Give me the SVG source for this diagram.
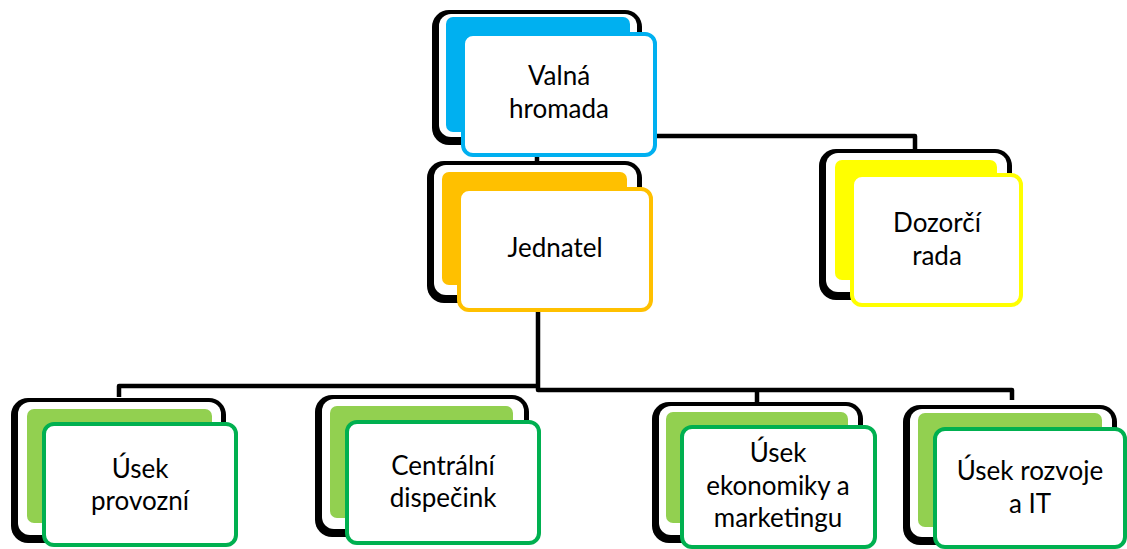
<svg xmlns="http://www.w3.org/2000/svg" width="1127" height="549" viewBox="0 0 1127 549">
<style>
.sh{fill:#000}
.in{fill:#fff}
.fr{fill:#fff;stroke-width:4}
.t{font-family:Lato,"Open Sans","Liberation Sans",sans-serif;font-size:26px;fill:#000;text-anchor:middle}
.c{fill:none;stroke:#000;stroke-width:4.5;stroke-linejoin:round}
.blue{fill:#00B0F0}.blueS{stroke:#00B0F0}
.orange{fill:#FFC000}.orangeS{stroke:#FFC000}
.yellow{fill:#FFFF00}.yellowS{stroke:#FFFF00}
.green{fill:#92D050}.greenS{stroke:#00B050}
</style>
<rect width="1127" height="549" fill="#fff"/>
<g id="connectors">
<path class="c" d="M657 136 H915 V149"/>
<path class="c" d="M537 156 V162"/>
<path class="c" d="M119 397 V386 H540"/>
<path class="c" d="M538 312 V390 H1012 V400"/>
<path class="c" d="M757 390 V403"/>
</g>
<g id="valna-hromada">
<rect class="sh" x="432" y="10" width="210" height="135" rx="17"/>
<rect class="in" x="439" y="14" width="198" height="123" rx="12"/>
<rect class="blue" x="446" y="17" width="184" height="115" rx="7"/>
<rect class="fr blueS" x="463" y="34" width="192" height="121" rx="10"/>
<text class="t" x="559" y="85">Valná</text>
<text class="t" x="559" y="118">hromada</text>
</g>
<g id="jednatel">
<rect class="sh" x="427" y="161" width="215" height="142" rx="17"/>
<rect class="in" x="434" y="165" width="203" height="130" rx="12"/>
<rect class="orange" x="442" y="172" width="185" height="113" rx="7"/>
<rect class="fr orangeS" x="459" y="189" width="192" height="121" rx="10"/>
<text class="t" x="555" y="257">Jednatel</text>
</g>
<g id="dozorci-rada">
<rect class="sh" x="819" y="149" width="193" height="151" rx="17"/>
<rect class="in" x="826" y="153" width="181" height="139" rx="12"/>
<rect class="yellow" x="835" y="160" width="162" height="120" rx="7"/>
<rect class="fr yellowS" x="852" y="175" width="169" height="130" rx="10"/>
<text class="t" x="937" y="232">Dozorčí</text>
<text class="t" x="937" y="265">rada</text>
</g>
<g id="usek-provozni">
<rect class="sh" x="11" y="398" width="215" height="145" rx="17"/>
<rect class="in" x="18" y="402" width="203" height="133" rx="12"/>
<rect class="green" x="27" y="409" width="185" height="114" rx="7"/>
<rect class="fr greenS" x="44" y="424" width="192" height="121" rx="10"/>
<text class="t" x="140" y="478">Úsek</text>
<text class="t" x="140" y="510">provozní</text>
</g>
<g id="centralni-dispecink">
<rect class="sh" x="315" y="395" width="214" height="142" rx="17"/>
<rect class="in" x="322" y="399" width="202" height="130" rx="12"/>
<rect class="green" x="330" y="406" width="183" height="112" rx="7"/>
<rect class="fr greenS" x="347" y="422" width="192" height="121" rx="10"/>
<text class="t" x="443" y="475">Centrální</text>
<text class="t" x="443" y="507">dispečink</text>
</g>
<g id="usek-ekonomiky">
<rect class="sh" x="652" y="402" width="211" height="141" rx="17"/>
<rect class="in" x="659" y="406" width="199" height="129" rx="12"/>
<rect class="green" x="666" y="412" width="182" height="111" rx="7"/>
<rect class="fr greenS" x="682" y="427" width="193" height="120" rx="10"/>
<text class="t" x="778" y="462">Úsek</text>
<text class="t" x="778" y="495">ekonomiky a</text>
<text class="t" x="778" y="527">marketingu</text>
</g>
<g id="usek-rozvoje">
<rect class="sh" x="903" y="405" width="214" height="140" rx="17"/>
<rect class="in" x="910" y="409" width="202" height="128" rx="12"/>
<rect class="green" x="918" y="413" width="184" height="114" rx="7"/>
<rect class="fr greenS" x="935" y="429" width="190" height="118" rx="10"/>
<text class="t" x="1030" y="480">Úsek rozvoje</text>
<text class="t" x="1030" y="513">a IT</text>
</g>
</svg>
